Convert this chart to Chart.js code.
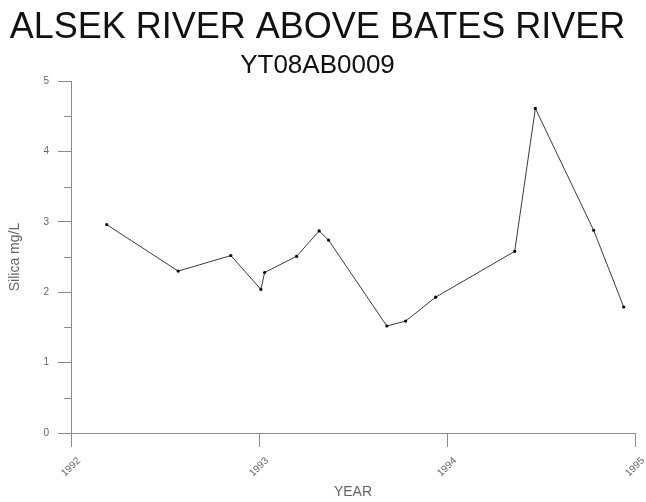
<!DOCTYPE html>
<html>
<head>
<meta charset="utf-8">
<script src="https://cdn.jsdelivr.net/npm/chart.js@4"></script>
<style>
  html,body{margin:0;padding:0;background:#fff;}
  #wrap{width:646px;height:502px;}
</style>
</head>
<body>
<div id="wrap"><canvas id="chart" width="646" height="502"></canvas></div>
<script>
// ---------- data ----------
const sampleDates = [1992.19, 1992.57, 1992.85, 1993.01, 1993.03, 1993.20, 1993.32, 1993.37,
                     1993.68, 1993.78, 1993.94, 1994.36, 1994.47, 1994.78, 1994.94];
const silica = [2.96, 2.30, 2.52, 2.04, 2.28, 2.51, 2.87, 2.74,
                1.52, 1.59, 1.93, 2.58, 4.61, 2.88, 1.79];
const yearTicks = [1992, 1993, 1994, 1995];

const axisGray = '#8a8a8a';
const textGray = '#666';
const FONT = '"Liberation Sans", Arial, sans-serif';

// minor y ticks at the half steps + centred rotated year labels
const axisExtras = {
  id: 'axisExtras',
  afterDraw(chart){
    const ctx = chart.ctx;
    const y = chart.scales.y, x = chart.scales.x;
    ctx.save();
    ctx.strokeStyle = axisGray;
    ctx.lineWidth = 1;
    y.ticks.forEach(t => {
      if (t.value >= y.max) return;
      const py = Math.round(y.getPixelForValue(t.value + 0.5)) + 0.5;
      ctx.beginPath();
      ctx.moveTo(y.right - 7, py);
      ctx.lineTo(y.right, py);
      ctx.stroke();
    });
    ctx.fillStyle = textGray;
    ctx.font = '10px ' + FONT;
    ctx.textAlign = 'center';
    ctx.textBaseline = 'middle';
    yearTicks.forEach(v => {
      const px = x.getPixelForValue(v);
      ctx.save();
      ctx.translate(px, x.top + 34);
      ctx.rotate(-Math.PI / 4);
      ctx.fillText(String(v), 0, 0);
      ctx.restore();
    });
    ctx.restore();
  }
};

new Chart(document.getElementById('chart'), {
  type: 'line',
  data: {
    datasets: [{
      data: sampleDates.map((d, i) => ({x: d, y: silica[i]})),
      borderColor: '#3a3a3a',
      borderWidth: 1,
      pointRadius: 1.6,
      pointBackgroundColor: '#000',
      pointBorderWidth: 0,
      tension: 0
    }]
  },
  options: {
    responsive: false,
    animation: false,
    layout: {padding: {left: 0, right: 11, top: 0, bottom: 0}},
    plugins: {
      legend: {display: false},
      tooltip: {enabled: false},
      title: {
        display: true,
        text: 'ALSEK RIVER ABOVE BATES RIVER',
        color: '#111',
        font: {family: FONT, size: 36, weight: 'normal'},
        padding: {top: 6.6, bottom: 0}
      },
      subtitle: {
        display: true,
        text: 'YT08AB0009',
        color: '#111',
        font: {family: FONT, size: 26, weight: 'normal'},
        padding: {top: 0, bottom: 0}
      }
    },
    scales: {
      x: {
        type: 'linear',
        min: 1992, max: 1995,
        afterFit(s){ s.height = 69; },
        afterBuildTicks(s){ s.ticks = yearTicks.map(v => ({value: v})); },
        grid: {drawOnChartArea: false, drawTicks: true, tickLength: 14, color: axisGray},
        border: {color: axisGray},
        ticks: {display: false},
        title: {
          display: true, text: 'YEAR', color: textGray,
          font: {family: FONT, size: 14},
          padding: {top: 0, bottom: 1.5}
        }
      },
      y: {
        min: 0, max: 5,
        afterFit(s){ s.width = 71; },
        grid: {drawOnChartArea: false, drawTicks: true, tickLength: 13, color: axisGray},
        border: {color: axisGray},
        ticks: {
          stepSize: 1, color: textGray, padding: 9,
          font: {family: FONT, size: 10}
        },
        title: {
          display: true, text: 'Silica mg/L', color: textGray,
          font: {family: FONT, size: 14},
          padding: {top: 7, bottom: 0}
        }
      }
    }
  },
  plugins: [axisExtras]
});
</script>
</body>
</html>
